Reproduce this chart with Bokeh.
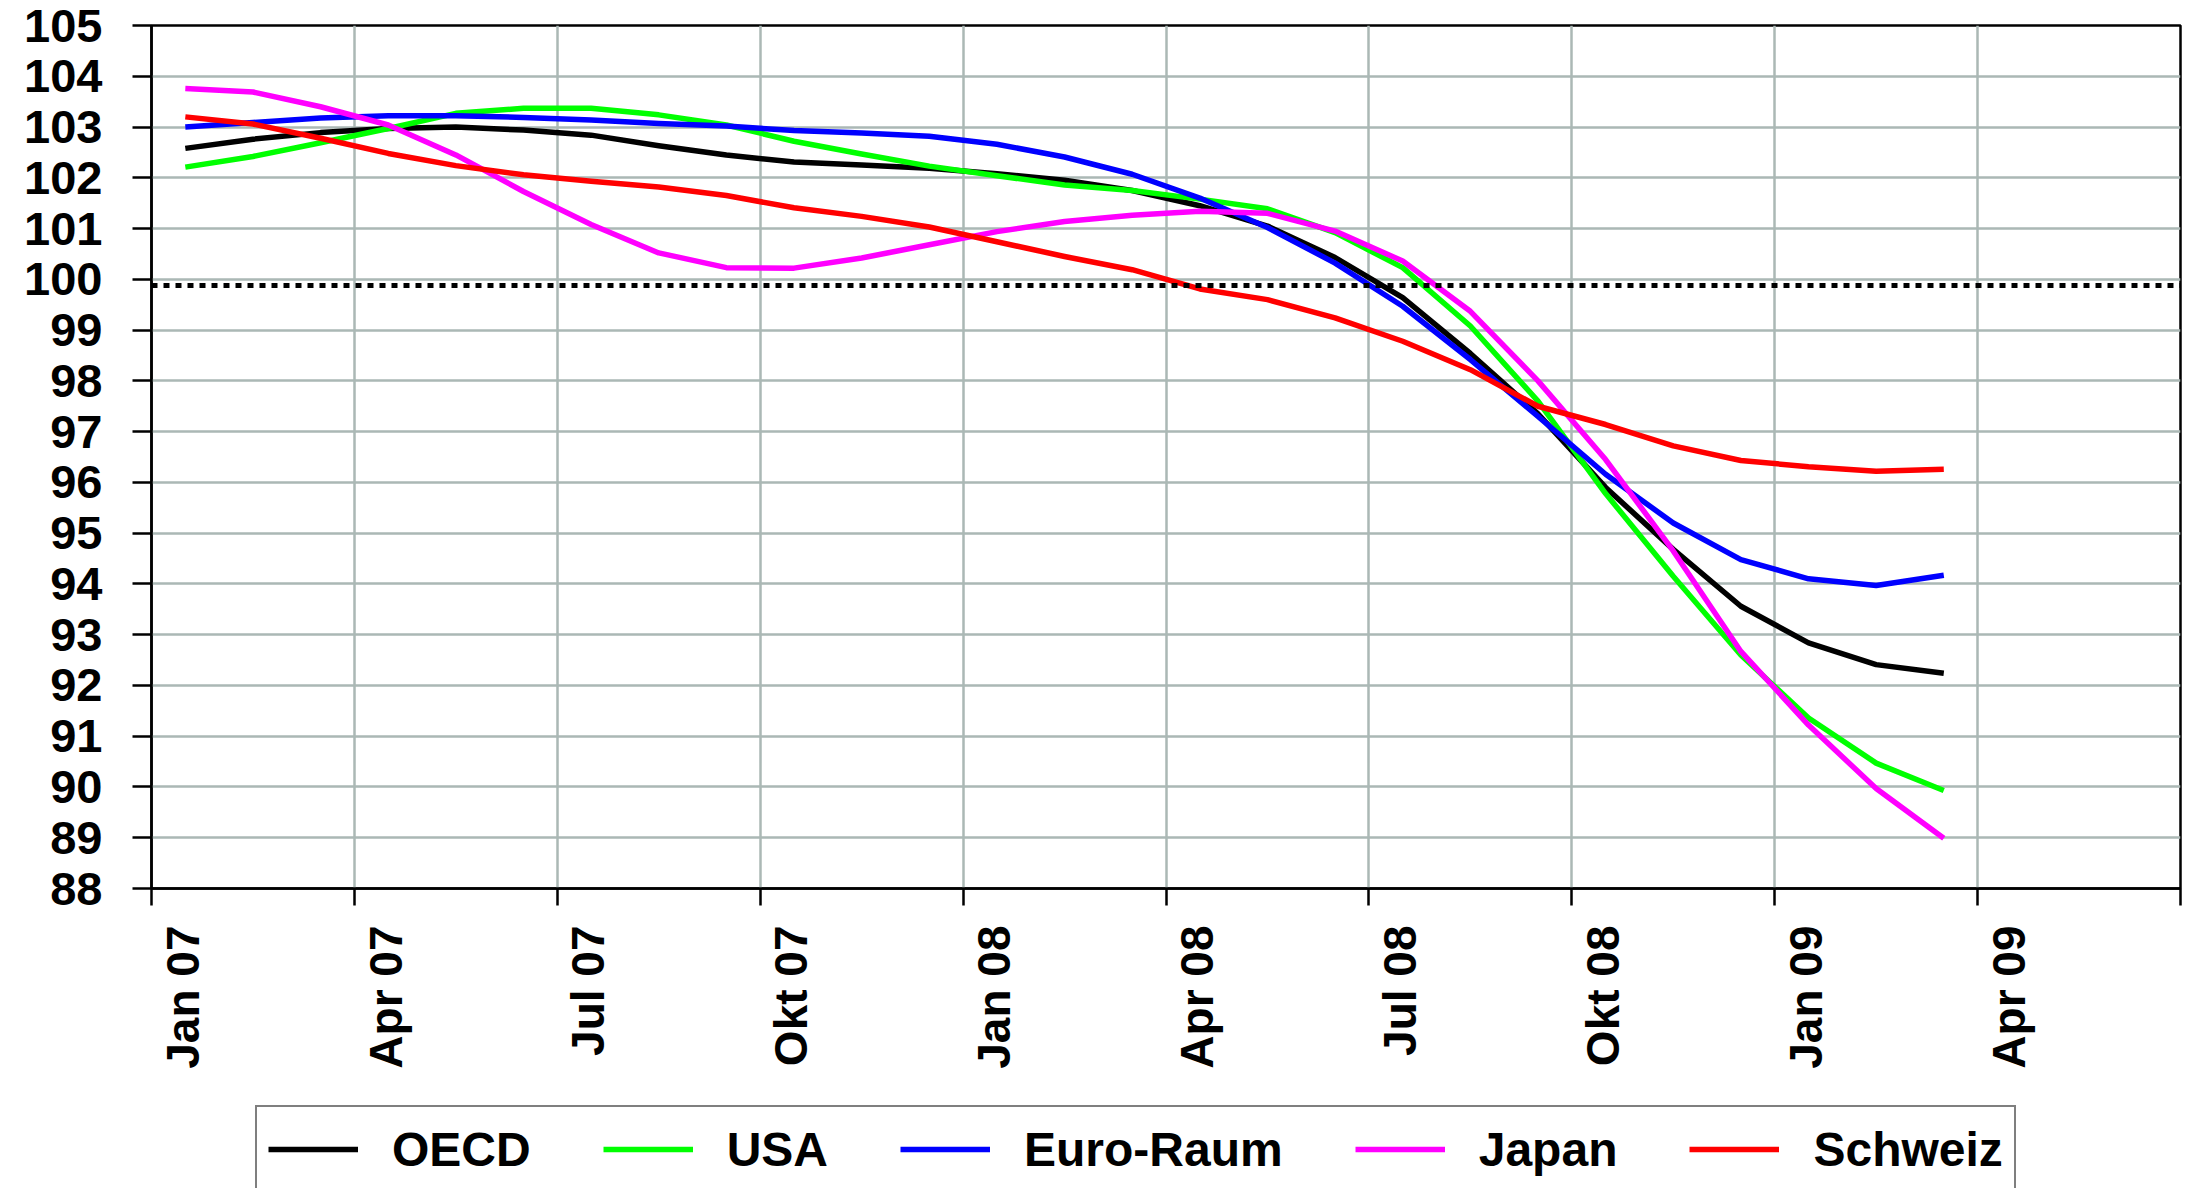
import math
from bokeh.plotting import figure
from bokeh.layouts import column
from bokeh.models import Range1d, LinearAxis, FixedTicker, Span, Legend, LegendItem
from bokeh.embed import file_html
from bokeh.resources import INLINE

# ---------------- data ----------------
months = ["Jan 07", "Feb 07", "Mär 07", "Apr 07", "Mai 07", "Jun 07", "Jul 07", "Aug 07", "Sep 07",
          "Okt 07", "Nov 07", "Dez 07", "Jan 08", "Feb 08", "Mär 08", "Apr 08", "Mai 08", "Jun 08",
          "Jul 08", "Aug 08", "Sep 08", "Okt 08", "Nov 08", "Dez 08", "Jan 09", "Feb 09", "Mär 09"]
axis_labels = ["Jan 07", "Apr 07", "Jul 07", "Okt 07", "Jan 08", "Apr 08", "Jul 08", "Okt 08", "Jan 09", "Apr 09"]
axis_months = 30  # axis runs Jan 07 .. Jul 09

oecd = [102.58, 102.76, 102.89, 102.97, 103.00, 102.94, 102.84, 102.63, 102.45, 102.31, 102.25, 102.19,
        102.08, 101.95, 101.75, 101.45, 101.05, 100.43, 99.64, 98.54, 97.35, 95.90, 94.68, 93.56,
        92.84, 92.41, 92.24]
usa = [102.21, 102.42, 102.69, 102.97, 103.27, 103.37, 103.37, 103.24, 103.04, 102.72, 102.47, 102.23,
       102.04, 101.86, 101.75, 101.58, 101.39, 100.92, 100.23, 99.08, 97.60, 95.78, 94.15, 92.60,
       91.36, 90.47, 89.93]
euro = [103.00, 103.09, 103.18, 103.22, 103.22, 103.19, 103.14, 103.07, 103.02, 102.93, 102.88, 102.82,
        102.66, 102.41, 102.07, 101.60, 101.02, 100.32, 99.47, 98.42, 97.30, 96.16, 95.20, 94.48,
        94.10, 93.97, 94.17]
japan = [103.76, 103.69, 103.40, 103.04, 102.45, 101.73, 101.08, 100.52, 100.23, 100.22, 100.42, 100.68,
         100.94, 101.14, 101.26, 101.34, 101.30, 100.95, 100.36, 99.37, 98.00, 96.45, 94.65, 92.67,
         91.22, 89.97, 88.99]
schweiz = [103.20, 103.06, 102.78, 102.48, 102.24, 102.06, 101.93, 101.82, 101.65, 101.41, 101.24, 101.03,
           100.74, 100.45, 100.19, 99.81, 99.60, 99.24, 98.78, 98.22, 97.50, 97.14, 96.72, 96.43,
           96.31, 96.22, 96.26]
ref_level = 99.88
y_ticks = list(range(88, 106))

series = [("OECD", oecd, "#000000"), ("USA", usa, "#00ff00"), ("Euro-Raum", euro, "#0000ff"),
          ("Japan", japan, "#ff00ff"), ("Schweiz", schweiz, "#ff0000")]

FONT = "Liberation Sans"
x = [i + 0.5 for i in range(len(months))]
quarter_ticks = list(range(0, axis_months + 1, 3))

W = 2193
BL, BR = 151, 13
p = figure(width=W, height=1105, output_backend="svg", toolbar_location=None,
           x_range=Range1d(0, axis_months), y_range=Range1d(88, 105),
           min_border_left=BL, min_border_right=BR, min_border_top=25, min_border_bottom=217)
p.background_fill_color = "white"
p.border_fill_color = "white"
p.outline_line_color = "black"
p.outline_line_width = 2.5

# x axis: ticks only
xa = p.xaxis[0]
xa.ticker = FixedTicker(ticks=quarter_ticks)
xa.major_label_overrides = {t: "" for t in quarter_ticks}
xa.major_label_text_font_size = "1px"
xa.major_label_standoff = 0
xa.major_tick_out = 17
xa.major_tick_in = 0
xa.minor_tick_out = 0
xa.minor_tick_in = 0
xa.axis_line_color = "black"
xa.axis_line_width = 2.5
xa.major_tick_line_width = 2.5
xa.major_tick_line_color = "black"

# label axis (labels sit slightly right of their tick, as in the original)
shift = 0.46
p.extra_x_ranges = {"lab": Range1d(-shift, axis_months - shift)}
lab_ticks = quarter_ticks[:len(axis_labels)]
la = LinearAxis(x_range_name="lab", ticker=FixedTicker(ticks=lab_ticks),
                major_label_overrides={t: lbl for t, lbl in zip(lab_ticks, axis_labels)})
la.major_tick_out = 0
la.major_tick_in = 0
la.minor_tick_out = 0
la.minor_tick_in = 0
la.axis_line_alpha = 0
la.major_label_orientation = math.pi / 2
la.major_label_standoff = 20
la.major_label_text_font = FONT
la.major_label_text_font_style = "bold"
la.major_label_text_font_size = "46px"
la.major_label_text_color = "black"
p.add_layout(la, "below")

# y axis
ya = p.yaxis[0]
ya.ticker = FixedTicker(ticks=y_ticks)
ya.major_tick_out = 19
ya.major_tick_in = 0
ya.minor_tick_out = 0
ya.minor_tick_in = 0
ya.major_label_standoff = 30
ya.major_label_text_font = FONT
ya.major_label_text_font_style = "bold"
ya.major_label_text_font_size = "47px"
ya.major_label_text_color = "black"
ya.axis_line_color = "black"
ya.axis_line_width = 2.5
ya.major_tick_line_width = 2.5
ya.major_tick_line_color = "black"

# grid
p.xgrid.ticker = FixedTicker(ticks=quarter_ticks)
p.ygrid.ticker = FixedTicker(ticks=y_ticks)
for g in (p.xgrid[0], p.ygrid[0]):
    g.grid_line_color = "#abb8b5"
    g.grid_line_width = 2.5

# reference line
p.add_layout(Span(location=ref_level, dimension="width", line_color="black",
                  line_width=5, line_dash="6 6"))

for name, vals, col in series:
    p.line(x, vals, line_color=col, line_width=5.5, line_join="round")

# ---------------- legend strip (separate figure below the chart) ----------------
q = figure(width=W, height=1188 - 1105, output_backend="svg", toolbar_location=None,
           x_range=Range1d(0, axis_months), y_range=Range1d(0, 1),
           x_axis_location=None, y_axis_location=None,
           min_border_left=BL, min_border_right=BR, min_border_top=0, min_border_bottom=0)
q.outline_line_color = None
q.grid.visible = False
q.background_fill_color = "white"
q.border_fill_color = "white"

items = []
for name, vals, col in series:
    r = q.line(x, vals, line_color=col, line_width=5.5)
    items.append(LegendItem(label=name, renderers=[r]))

legend = Legend(items=items, orientation="horizontal", location=(104, -5))
legend.label_text_font = FONT
legend.label_text_font_style = "bold"
legend.label_text_font_size = "48px"
legend.label_text_color = "black"
legend.label_height = 62
legend.glyph_width = 90
legend.glyph_height = 20
legend.label_standoff = 34
legend.spacing = 72
legend.padding = 11
legend.margin = 0
legend.border_line_color = "black"
legend.border_line_width = 2.5
legend.background_fill_color = "white"
legend.background_fill_alpha = 1.0
q.add_layout(legend, "center")

layout = column(p, q, spacing=0)
open("out.html", "w").write(file_html(layout, INLINE))
